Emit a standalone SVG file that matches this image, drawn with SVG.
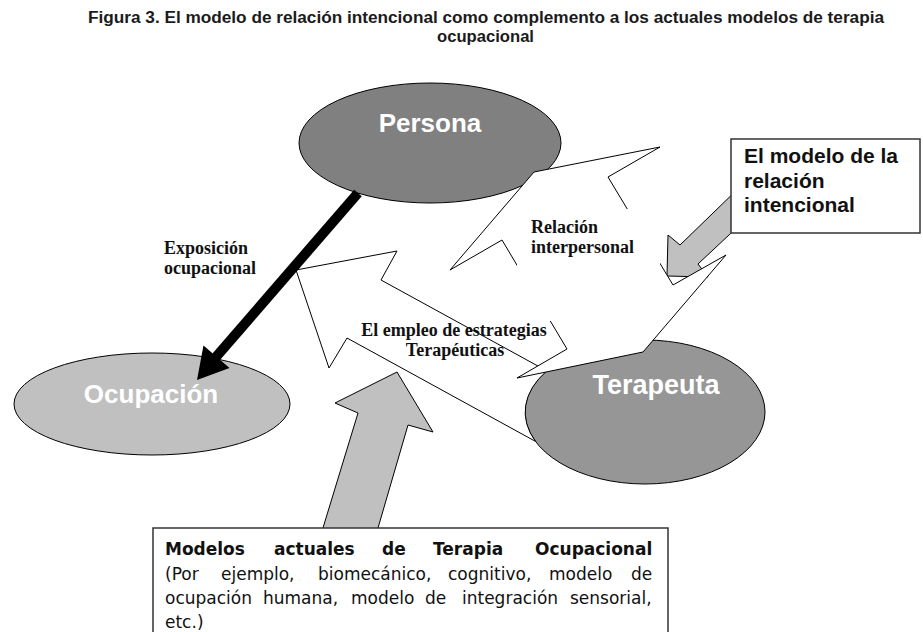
<svg xmlns="http://www.w3.org/2000/svg" width="923" height="632" viewBox="0 0 923 632">
<style>
.title{font-family:"Liberation Sans",Arial,sans-serif;font-weight:bold;font-size:16px;fill:#1b1b1b}
.ell{stroke:#000;stroke-width:1}
.ntext{font-family:"Liberation Sans",Arial,sans-serif;font-weight:bold;fill:#fff;text-anchor:middle}
.wa{fill:#fff;stroke:#000;stroke-width:1;stroke-linejoin:miter}
.ga{fill:#c0c0c0;stroke:#000;stroke-width:1}
.lbl{font-family:"Liberation Serif","Times New Roman",serif;font-weight:bold;font-size:18px;fill:#111}
.box{fill:#fff;stroke:#333;stroke-width:1.5}
.bt{font-family:"Liberation Sans",Arial,sans-serif;font-weight:bold;font-size:21px;fill:#111}
.mt{font-family:"DejaVu Sans",Verdana,sans-serif;font-size:17px;fill:#111}
.mtb{font-weight:bold}
</style>

<g id="title">
<text class="title" x="88" y="23" textLength="796" lengthAdjust="spacingAndGlyphs">Figura 3. El modelo de relación intencional como complemento a los actuales modelos de terapia</text>
<text class="title" x="437" y="42" textLength="97" lengthAdjust="spacingAndGlyphs">ocupacional</text>
</g>

<g id="node-persona">
<ellipse class="ell" cx="430" cy="143" rx="131" ry="60" fill="#808080"/>
<text class="ntext" x="430" y="132" font-size="26">Persona</text>
</g>
<g id="node-ocupacion">
<ellipse class="ell" cx="152" cy="404" rx="138" ry="51" fill="#c0c0c0"/>
<text class="ntext" x="151" y="403" font-size="26">Ocupación</text>
</g>
<g id="node-terapeuta">
<ellipse class="ell" cx="645" cy="412" rx="120" ry="72" fill="#969696"/>
<text class="ntext" x="656" y="394" font-size="27">Terapeuta</text>
</g>

<g id="connectors">
<!-- El empleo de estrategias terapeuticas arrow -->
<path class="wa" d="M296,270 L397,251 L381,280 L546.8,370.9 A120,72 0 0 0 535.5,441.4 L347,338 L329,368 Z"/>
<!-- Modelos actuales arrow -->
<polygon class="ga" points="397,372 433,432 408,425 374.5,540 319.3,540 358,413 335,403"/>
<!-- Modelo relacion intencional arrow -->
<polygon class="ga" points="667,276 668,235 680,245 745,182 745,220 698,264 708,277"/>
<!-- Relacion interpersonal double arrow -->
<polygon class="wa" points="534,172 660,147 608,177 673,285 726,255 643,352 517,378 567,349 502,240 450,270"/>
<!-- Exposicion ocupacional arrow -->
<line x1="358" y1="193" x2="216" y2="357" stroke="#000" stroke-width="10"/>
<polygon points="197,380 229.5,368 203.5,345.5" fill="#000"/>
</g>

<g id="label-relacion">
<rect x="517" y="209" width="143" height="112" fill="#fff"/>
<text class="lbl" x="531" y="233">Relación</text>
<text class="lbl" x="531" y="253">interpersonal</text>
</g>
<g id="label-exposicion">
<text class="lbl" x="164" y="254">Exposición</text>
<text class="lbl" x="164" y="274">ocupacional</text>
</g>
<g id="label-empleo">
<text class="lbl" x="454" y="336" text-anchor="middle">El empleo de estrategias</text>
<text class="lbl" x="455" y="356" text-anchor="middle">Terapéuticas</text>
</g>

<g id="node-modelo-relacion">
<rect class="box" x="731" y="139" width="189" height="94"/>
<text class="bt" x="744" y="163">El modelo de la</text>
<text class="bt" x="744" y="188">relación</text>
<text class="bt" x="744" y="212">intencional</text>
</g>

<g id="node-modelos-actuales">
<rect class="box" x="153" y="528" width="515" height="120"/>
<text class="mt mtb" y="555"><tspan x="165">Modelos</tspan><tspan x="274">actuales</tspan><tspan x="382">de</tspan><tspan x="433">Terapia</tspan><tspan x="535">Ocupacional</tspan></text>
<text class="mt" y="580"><tspan x="165">(Por</tspan><tspan x="221">ejemplo,</tspan><tspan x="318">biomecánico,</tspan><tspan x="448">cognitivo,</tspan><tspan x="549">modelo</tspan><tspan x="631">de</tspan></text>
<text class="mt" y="604"><tspan x="165">ocupación</tspan><tspan x="263">humana,</tspan><tspan x="351">modelo</tspan><tspan x="425">de</tspan><tspan x="462">integración</tspan><tspan x="570">sensorial,</tspan></text>
<text class="mt" y="628"><tspan x="165">etc.)</tspan></text>
</g>
</svg>
